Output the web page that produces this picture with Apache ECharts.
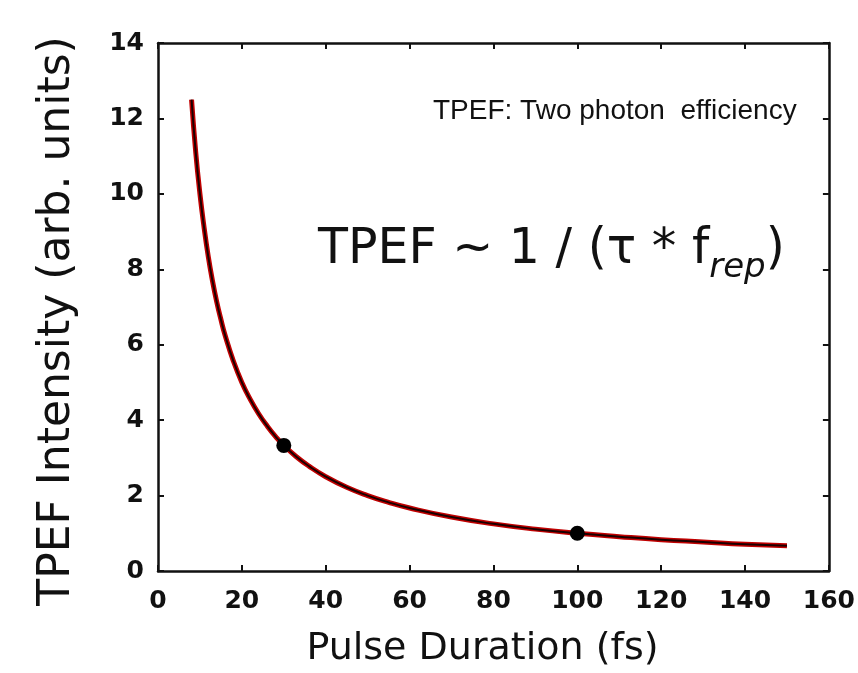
<!DOCTYPE html>
<html>
<head>
<meta charset="utf-8">
<script src="https://cdn.jsdelivr.net/npm/echarts@6/dist/echarts.min.js"></script>
<style>
  html, body { margin: 0; padding: 0; background: #ffffff; }
  #TpefChart { width: 858px; height: 673px; }
</style>
</head>
<body>
<div id="TpefChart"></div>
<script>
  // pulse duration (fs) and TPEF intensity
  var pulseDuration = [8, 9, 10, 11, 12, 13, 14, 15, 16, 18, 20, 22, 24, 26, 28, 30, 33, 36, 40, 45, 50, 55, 60, 70, 80, 90, 100, 110, 120, 130, 140, 150];
  var tpefIntensity = [12.5, 11.1, 10, 9.1, 8.33, 7.69, 7.14, 6.67, 6.25, 5.56, 5, 4.55, 4.17, 3.85, 3.57, 3.33, 3.03, 2.78, 2.5, 2.22, 2, 1.82, 1.67, 1.43, 1.25, 1.11, 1, 0.91, 0.83, 0.77, 0.71, 0.67];

  // the two marked points
  var markX = [30, 100];
  var markY = [3.33, 1];

  function pairs(xs, ys) {
    var out = [];
    for (var i = 0; i < xs.length; i++) {
      out.push([xs[i], ys[i]]);
    }
    return out;
  }

  var curveData = pairs(pulseDuration, tpefIntensity);
  var labelFont = {fontFamily: 'DejaVu Sans', fontSize: 25, fontWeight: 'bold', color: '#111111'};
  var frameLine = {show: true, onZero: false, lineStyle: {color: '#111111', width: 2.5}};
  var innerTick = {show: true, inside: true, length: 6, lineStyle: {color: '#111111', width: 2}};

  var myChart = echarts.init(document.getElementById('TpefChart'));

  myChart.setOption({
    backgroundColor: '#ffffff',
    animation: false,
    grid: {left: 158, right: 21, top: 43, bottom: 102},
    xAxis: [
      {
        type: 'value', position: 'bottom',
        min: 0, max: 160, interval: 20,
        axisLine: frameLine, axisTick: innerTick, splitLine: {show: false},
        axisLabel: Object.assign({margin: 18}, labelFont),
        name: 'Pulse Duration (fs)', nameLocation: 'middle', nameGap: 59,
        nameTextStyle: {fontFamily: 'DejaVu Sans', fontSize: 38, color: '#111111', padding: [0, 22, 0, 0]}
      },
      {
        type: 'value', position: 'top',
        min: 0, max: 160, interval: 20,
        axisLine: frameLine, axisTick: innerTick, splitLine: {show: false},
        axisLabel: {show: false}
      }
    ],
    yAxis: [
      {
        type: 'value', position: 'left',
        min: 0, max: 14, interval: 2,
        axisLine: frameLine, axisTick: innerTick, splitLine: {show: false},
        axisLabel: Object.assign({margin: 14}, labelFont),
        name: 'TPEF Intensity (arb. units)', nameLocation: 'middle', nameGap: 78,
        nameTextStyle: {fontFamily: 'DejaVu Sans', fontSize: 44, color: '#111111', padding: [0, 28, 0, 0]}
      },
      {
        type: 'value', position: 'right',
        min: 0, max: 14, interval: 2,
        axisLine: frameLine, axisTick: innerTick, splitLine: {show: false},
        axisLabel: {show: false}
      }
    ],
    graphic: [
      {
        type: 'text', left: 433, top: 97,
        style: {text: 'TPEF: Two photon  efficiency', fontFamily: 'Liberation Sans', fontSize: 28, fill: '#111111'}
      },
      {
        type: 'text', left: 318, top: 226,
        style: {
          text: '{a|TPEF ~ 1 / (\u03c4 * f}{b|rep}{a|)}',
          rich: {
            a: {fontFamily: 'DejaVu Sans', fontSize: 49, fill: '#111111', lineHeight: 60, verticalAlign: 'bottom'},
            b: {fontFamily: 'DejaVu Sans', fontSize: 34, fontStyle: 'italic', fill: '#111111', lineHeight: 40, verticalAlign: 'bottom', padding: [0, 0, -10, 0]}
          }
        }
      }
    ],
    series: [
      {
        type: 'line', data: curveData, smooth: true, showSymbol: false,
        lineStyle: {color: '#c00000', width: 5}, z: 2
      },
      {
        type: 'line', data: curveData, smooth: true, showSymbol: false,
        lineStyle: {color: '#1a0000', width: 2}, z: 3
      },
      {
        type: 'scatter', data: pairs(markX, markY),
        symbolSize: 15, itemStyle: {color: '#000000', opacity: 1}, z: 4
      }
    ]
  });
</script>
</body>
</html>
